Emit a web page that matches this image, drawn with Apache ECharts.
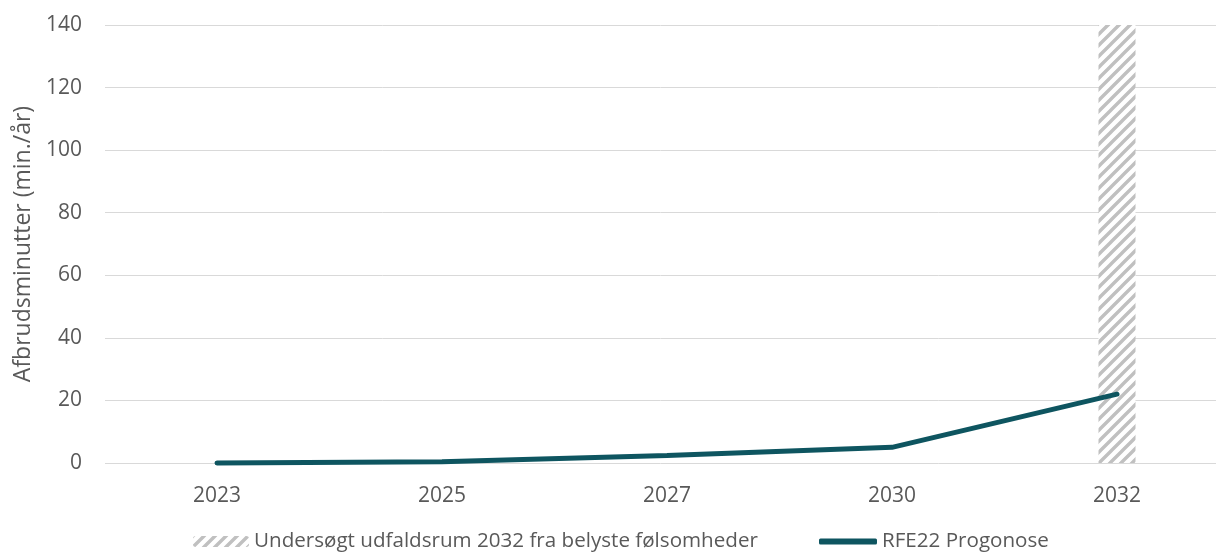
<!DOCTYPE html>
<html>
<head>
<meta charset="utf-8">
<script src="https://cdn.jsdelivr.net/npm/echarts@6/dist/echarts.min.js"></script>
<style>
html,body{margin:0;padding:0;background:#fff;}
#chart{width:1216px;height:559px;}
</style>
</head>
<body>
<div id="chart"></div>
<script>
const categories = ['2023', '2025', '2027', '2030', '2032'];
const forecastValues = [0, 0.4, 2.4, 5, 22];
const rangeValues = [null, null, null, null, 140];
const yTicks = { min: 0, max: 140, interval: 20 };
const rangeName = 'Undersøgt udfaldsrum 2032 fra belyste følsomheder';
const lineName = 'RFE22 Progonose';
const yTitle = 'Afbrudsminutter (min./år)';

function hatch() {
  const s = 11;
  const c = document.createElement('canvas');
  c.width = s; c.height = s;
  const g = c.getContext('2d');
  g.fillStyle = '#ffffff';
  g.fillRect(0, 0, s, s);
  g.strokeStyle = '#c0c0c0';
  g.lineWidth = 3.4;
  g.beginPath();
  for (let k = -1; k <= 1; k++) {
    g.moveTo(-2 + k * s, s + 2);
    g.lineTo(s + 2 + k * s, -2);
  }
  g.stroke();
  return { image: c, repeat: 'repeat' };
}
const pattern = hatch();

const font = 'Open Sans';
const txt = '#595959';
const chart = echarts.init(document.getElementById('chart'), null, { renderer: 'canvas' });
chart.setOption({
  animation: false,
  textStyle: { fontFamily: font },
  grid: [
    { left: 105, right: 0, top: 25, height: 438, containLabel: false },
    { left: 217, right: 99, top: 25, height: 438, containLabel: false }
  ],
  legend: [
    {
      data: [{ name: rangeName }],
      left: 188, bottom: 2,
      itemWidth: 56, itemHeight: 11, itemGap: 0,
      textStyle: { color: txt, fontSize: 20.6, fontFamily: font }
    },
    {
      data: [{ name: lineName, icon: 'roundRect' }],
      left: 814, bottom: 2,
      itemWidth: 58, itemHeight: 6, itemGap: 0,
      textStyle: { color: txt, fontSize: 20.6, fontFamily: font }
    }
  ],
  xAxis: [
    {
      gridIndex: 0,
      type: 'category',
      data: categories,
      show: false
    },
    {
      gridIndex: 1,
      type: 'category',
      data: categories,
      boundaryGap: false,
      axisLine: { show: false },
      axisTick: { show: false },
      splitLine: { show: false },
      axisLabel: { color: txt, fontSize: 21, margin: 23, fontFamily: font }
    }
  ],
  yAxis: [
    {
      gridIndex: 0,
      type: 'value',
      min: yTicks.min, max: yTicks.max, interval: yTicks.interval,
      name: yTitle,
      nameLocation: 'middle',
      nameGap: 70,
      nameTextStyle: { color: txt, fontSize: 23, fontFamily: font },
      axisLine: { show: false },
      axisTick: { show: false },
      axisLabel: { color: txt, fontSize: 21, margin: 23, fontFamily: font },
      splitLine: { lineStyle: { color: '#d9d9d9', width: 1 } }
    },
    {
      gridIndex: 1,
      type: 'value',
      min: yTicks.min, max: yTicks.max, interval: yTicks.interval,
      show: false,
      splitLine: { show: false }
    }
  ],
  series: [
    {
      name: rangeName,
      type: 'bar',
      xAxisIndex: 1, yAxisIndex: 1,
      data: rangeValues,
      barWidth: 37,
      clip: false,
      itemStyle: { color: pattern },
      z: 1
    },
    {
      name: lineName,
      type: 'line',
      xAxisIndex: 1, yAxisIndex: 1,
      data: forecastValues,
      showSymbol: false,
      symbol: 'none',
      clip: false,
      lineStyle: { color: '#0e5560', width: 5, cap: 'round' },
      itemStyle: { color: '#0e5560' },
      z: 3
    }
  ]
});
</script>
</body>
</html>
